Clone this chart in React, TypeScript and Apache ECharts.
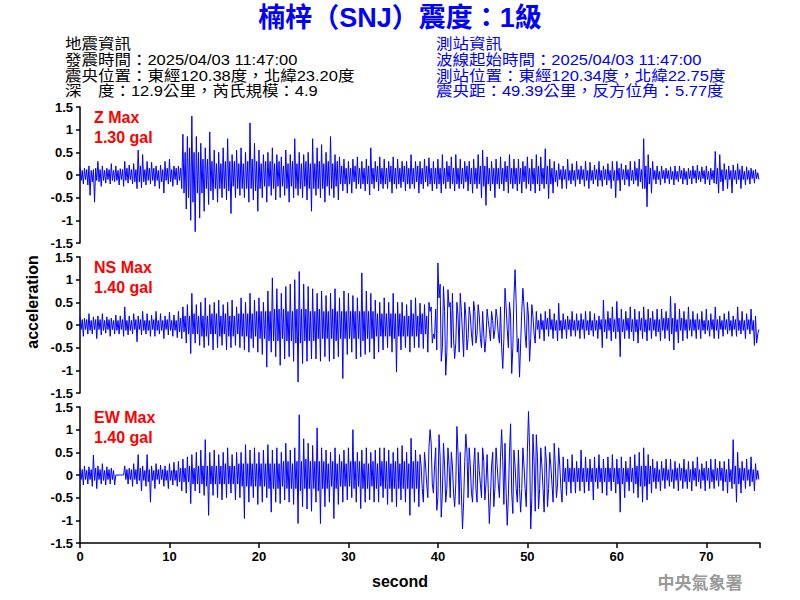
import React, { useEffect, useRef } from "react";
import * as echarts from "echarts";

// sampling interval of the traces below (seconds)
const SAMPLE_STEP = 0.125;
const X_MAX = 76;
const X_TICK_LABELS = [0, 10, 20, 30, 40, 50, 60, 70];
const Y_RANGE = [-1.5, 1.5];

const TITLE = "楠梓（SNJ）震度：1級";
const QUAKE_INFO = [
  "地震資訊",
  "發震時間：2025/04/03 11:47:00",
  "震央位置：東經120.38度，北緯23.20度",
  "深　度：12.9公里，芮氏規模：4.9",
];
const STATION_INFO = [
  "測站資訊",
  "波線起始時間：2025/04/03 11:47:00",
  "測站位置：東經120.34度，北緯22.75度",
  "震央距：49.39公里，反方位角：5.77度",
];
const COMPONENTS = ["Z", "NS", "EW"];
const MAX_LABELS = ["1.30 gal", "1.40 gal", "1.40 gal"];

// acceleration (gal), one value per SAMPLE_STEP (8 per second, one row per second)
const zAccel = [
  0.18, -0.12, 0.1, -0.2, 0.15, -0.1, 0.12, -0.22,
  0.2, -0.45, 0.1, -0.15, 0.12, -0.6, 0.15, -0.12,
  0.3, -0.15, 0.12, -0.25, 0.2, -0.12, 0.1, -0.18,
  0.15, -0.1, 0.12, -0.2, 0.25, -0.12, 0.1, -0.15,
  0.2, -0.12, 0.1, -0.22, 0.14, -0.1, 0.12, -0.25,
  0.3, -0.12, 0.15, -0.18, 0.22, -0.1, 0.12, -0.2,
  0.25, -0.15, 0.12, -0.3, 0.55, -0.15, 0.2, -0.28,
  0.45, -0.15, 0.12, -0.22, 0.3, -0.12, 0.15, -0.2,
  0.28, -0.12, 0.15, -0.25, 0.2, -0.12, 0.1, -0.3,
  0.22, -0.15, 0.12, -0.4, 0.3, -0.12, 0.15, -0.2,
  0.35, -0.15, 0.12, -0.25, 0.2, -0.1, 0.15, -0.22,
  0.2, -0.12, 0.15, -0.3, 0.9, -0.4, 0.5, -0.75,
  0.85, -0.5, 0.6, -1.0, 1.3, -0.6, 0.5, -1.25,
  0.85, -0.4, 0.5, -0.95, 0.7, -0.4, 0.35, -0.8,
  0.6, -0.3, 0.35, -0.65, 0.95, -0.35, 0.3, -0.55,
  0.55, -0.3, 0.25, -0.6, 0.5, -0.3, 0.25, -0.5,
  0.6, -0.3, 0.3, -0.55, 0.8, -0.35, 0.3, -0.85,
  0.45, -0.25, 0.3, -0.5, 0.55, -0.3, 0.25, -0.45,
  0.6, -0.3, 0.25, -0.5, 0.5, -0.3, 0.3, -0.6,
  1.15, -0.3, 0.35, -0.55, 0.7, -0.35, 0.3, -0.8,
  0.55, -0.3, 0.25, -0.5, 0.45, -0.25, 0.3, -0.6,
  0.5, -0.25, 0.3, -0.45, 0.6, -0.3, 0.25, -0.55,
  0.45, -0.25, 0.3, -0.5, 0.4, -0.25, 0.2, -0.45,
  0.55, -0.3, 0.25, -0.6, 0.45, -0.25, 0.3, -0.5,
  0.8, -0.3, 0.25, -0.45, 0.5, -0.3, 0.25, -0.5,
  0.45, -0.25, 0.3, -0.55, 0.5, -0.3, 0.25, -0.8,
  0.8, -0.3, 0.25, -0.45, 0.6, -0.3, 0.3, -0.5,
  0.67, -0.3, 0.25, -0.6, 0.5, -0.25, 0.3, -0.45,
  0.85, -0.3, 0.25, -0.5, 0.45, -0.25, 0.3, -0.55,
  0.4, -0.2, 0.2, -0.35, 0.35, -0.2, 0.15, -0.4,
  0.3, -0.2, 0.15, -0.4, 0.35, -0.15, 0.2, -0.3,
  0.4, -0.2, 0.15, -0.3, 0.3, -0.2, 0.15, -0.35,
  0.35, -0.2, 0.2, -0.44, 0.6, -0.2, 0.15, -0.3,
  0.3, -0.15, 0.2, -0.35, 0.4, -0.2, 0.15, -0.3,
  0.35, -0.2, 0.15, -0.3, 0.3, -0.15, 0.2, -0.4,
  0.4, -0.2, 0.15, -0.3, 0.35, -0.2, 0.15, -0.28,
  0.3, -0.15, 0.2, -0.35, 0.3, -0.2, 0.15, -0.3,
  0.45, -0.2, 0.15, -0.3, 0.3, -0.15, 0.2, -0.4,
  0.3, -0.2, 0.15, -0.3, 0.35, -0.15, 0.2, -0.25,
  0.38, -0.2, 0.15, -0.35, 0.3, -0.2, 0.15, -0.3,
  0.35, -0.2, 0.15, -0.4, 0.45, -0.2, 0.15, -0.3,
  0.3, -0.15, 0.2, -0.3, 0.4, -0.2, 0.15, -0.35,
  0.45, -0.2, 0.15, -0.3, 0.35, -0.2, 0.15, -0.3,
  0.3, -0.15, 0.2, -0.35, 0.3, -0.2, 0.15, -0.4,
  0.35, -0.2, 0.15, -0.3, 0.45, -0.2, 0.2, -0.5,
  0.55, -0.25, 0.2, -0.67, 0.4, -0.2, 0.15, -0.35,
  0.3, -0.2, 0.15, -0.5, 0.35, -0.2, 0.15, -0.3,
  0.4, -0.2, 0.15, -0.35, 0.3, -0.15, 0.2, -0.4,
  0.45, -0.2, 0.15, -0.3, 0.35, -0.2, 0.15, -0.35,
  0.35, -0.2, 0.15, -0.4, 0.3, -0.15, 0.2, -0.3,
  0.4, -0.2, 0.15, -0.35, 0.35, -0.2, 0.15, -0.4,
  0.45, -0.2, 0.2, -0.35, 0.4, -0.2, 0.15, -0.3,
  0.58, -0.2, 0.2, -0.52, 0.35, -0.2, 0.15, -0.4,
  0.3, -0.15, 0.1, -0.25, 0.25, -0.1, 0.12, -0.3,
  0.2, -0.1, 0.12, -0.3, 0.35, -0.12, 0.1, -0.2,
  0.25, -0.12, 0.1, -0.25, 0.3, -0.1, 0.12, -0.2,
  0.2, -0.1, 0.12, -0.25, 0.3, -0.12, 0.1, -0.3,
  0.28, -0.12, 0.1, -0.2, 0.22, -0.1, 0.12, -0.25,
  0.3, -0.12, 0.1, -0.25, 0.2, -0.1, 0.12, -0.22,
  0.25, -0.12, 0.1, -0.3, 0.3, -0.12, 0.1, -0.5,
  0.3, -0.12, 0.15, -0.35, 0.25, -0.1, 0.12, -0.22,
  0.22, -0.1, 0.12, -0.25, 0.3, -0.12, 0.1, -0.2,
  0.3, -0.12, 0.15, -0.25, 0.35, -0.15, 0.12, -0.3,
  0.8, -0.3, 0.2, -0.7, 0.45, -0.2, 0.15, -0.4,
  0.3, -0.1, 0.1, -0.2, 0.2, -0.1, 0.08, -0.22,
  0.2, -0.08, 0.1, -0.18, 0.15, -0.08, 0.1, -0.2,
  0.18, -0.1, 0.08, -0.22, 0.2, -0.1, 0.08, -0.15,
  0.2, -0.08, 0.1, -0.2, 0.15, -0.1, 0.08, -0.22,
  0.15, -0.08, 0.1, -0.2, 0.2, -0.08, 0.1, -0.18,
  0.22, -0.1, 0.08, -0.15, 0.18, -0.08, 0.1, -0.2,
  0.2, -0.1, 0.08, -0.22, 0.15, -0.1, 0.1, -0.18,
  0.52, -0.2, 0.15, -0.4, 0.45, -0.15, 0.12, -0.35,
  0.25, -0.1, 0.12, -0.3, 0.2, -0.1, 0.1, -0.4,
  0.22, -0.1, 0.1, -0.2, 0.25, -0.1, 0.12, -0.3,
  0.2, -0.1, 0.08, -0.22, 0.18, -0.1, 0.1, -0.2,
  0.15, -0.08, 0.1, -0.18, 0.12, -0.08, 0.05, -0.1,
];

const nsAccel = [
  0.2, -0.1, 0.12, -0.25, 0.15, -0.1, 0.12, -0.2,
  0.25, -0.12, 0.1, -0.2, 0.18, -0.1, 0.12, -0.3,
  0.2, -0.1, 0.12, -0.22, 0.25, -0.12, 0.1, -0.18,
  0.18, -0.1, 0.12, -0.25, 0.15, -0.1, 0.1, -0.2,
  0.22, -0.12, 0.1, -0.2, 0.2, -0.1, 0.12, -0.25,
  0.4, -0.12, 0.1, -0.22, 0.2, -0.12, 0.1, -0.2,
  0.25, -0.1, 0.12, -0.37, 0.2, -0.1, 0.12, -0.22,
  0.3, -0.12, 0.1, -0.2, 0.25, -0.12, 0.1, -0.25,
  0.22, -0.1, 0.12, -0.25, 0.3, -0.12, 0.1, -0.2,
  0.25, -0.12, 0.1, -0.3, 0.2, -0.1, 0.12, -0.22,
  0.28, -0.12, 0.1, -0.25, 0.22, -0.12, 0.1, -0.28,
  0.3, -0.15, 0.15, -0.3, 0.4, -0.15, 0.2, -0.4,
  0.45, -0.2, 0.2, -0.63, 0.7, -0.2, 0.25, -0.4,
  0.45, -0.2, 0.2, -0.45, 0.5, -0.25, 0.2, -0.5,
  0.6, -0.25, 0.2, -0.45, 0.45, -0.2, 0.25, -0.55,
  0.5, -0.2, 0.25, -0.5, 0.55, -0.25, 0.2, -0.45,
  0.45, -0.2, 0.25, -0.55, 0.5, -0.25, 0.2, -0.5,
  0.55, -0.25, 0.2, -0.45, 0.4, -0.2, 0.25, -0.5,
  0.6, -0.25, 0.25, -0.55, 0.5, -0.25, 0.25, -0.6,
  0.7, -0.3, 0.25, -0.5, 0.55, -0.25, 0.3, -0.6,
  0.6, -0.3, 0.3, -0.65, 0.5, -0.3, 0.3, -0.93,
  0.75, -0.35, 0.3, -0.6, 1.04, -0.35, 0.35, -0.7,
  0.8, -0.35, 0.35, -0.89, 0.7, -0.3, 0.35, -0.75,
  0.85, -0.35, 0.3, -0.7, 0.9, -0.35, 0.3, -0.8,
  1.0, -0.4, 0.35, -1.26, 1.18, -0.4, 0.35, -0.85,
  0.9, -0.35, 0.35, -0.8, 0.85, -0.35, 0.3, -0.75,
  0.8, -0.35, 0.3, -0.75, 0.7, -0.3, 0.35, -0.8,
  0.75, -0.3, 0.3, -0.7, 0.65, -0.3, 0.3, -0.8,
  0.7, -0.3, 0.35, -0.75, 0.8, -0.35, 0.3, -0.7,
  0.6, -0.3, 0.3, -1.18, 0.75, -0.3, 0.3, -0.65,
  0.7, -0.3, 0.3, -0.6, 0.65, -0.3, 0.3, -0.75,
  0.6, -0.3, 0.3, -0.7, 1.15, -0.35, 0.3, -0.65,
  0.75, -0.3, 0.3, -0.6, 0.7, -0.3, 0.3, -0.75,
  0.55, -0.25, 0.25, -0.6, 0.5, -0.25, 0.25, -0.55,
  0.6, -0.25, 0.25, -0.5, 0.5, -0.25, 0.25, -0.6,
  0.7, -0.3, 0.25, -1.04, 0.5, -0.25, 0.25, -0.55,
  0.5, -0.25, 0.2, -0.5, 0.45, -0.25, 0.2, -0.6,
  0.55, -0.25, 0.25, -0.5, 0.6, -0.25, 0.2, -0.5,
  0.48, -0.2, 0.25, -0.52, 0.45, -0.2, 0.2, -0.6,
  0.5, 0.3, 0.4, -0.4, -0.2, -0.3, 0.35, -0.55,
  1.37, 0.6, 0.9, -0.8, -0.5, 0.85, 0.3, -1.11,
  -0.6, 0.78, 0.4, 0.5, -0.5, 0.7, -0.3, -0.74,
  -0.4, 0.5, 0.2, -0.6, 0.7, 0.3, -0.2, -0.7,
  0.5, 0.2, -0.55, -0.3, 0.4, 0.2, -0.2, -0.45,
  0.52, 0.3, -0.4, -0.2, 0.45, 0.2, -0.3, -0.5,
  0.3, -0.2, -0.6, -0.3, 0.35, 0.1, -0.1, -0.35,
  0.3, 0.1, -0.3, -0.1, 0.35, 0.15, -0.2, -0.4,
  0.4, -0.5, -0.96, -0.3, 0.81, 0.4, -0.1, -0.5,
  0.5, 0.2, -1.07, -0.5, 0.6, 1.22, 0.5, -0.6,
  -0.3, -1.15, -0.4, 0.3, 0.81, 0.4, -0.2, -0.5,
  0.5, 0.2, -0.8, -0.3, 0.45, 0.2, -0.2, -0.4,
  0.3, -0.1, 0.1, -0.3, 0.25, -0.1, 0.1, -0.35,
  0.3, -0.1, 0.15, -0.25, 0.35, -0.1, 0.12, -0.3,
  0.25, -0.12, 0.1, -0.35, 0.48, -0.12, 0.1, -0.3,
  0.25, -0.1, 0.12, -0.3, 0.2, -0.1, 0.12, -0.25,
  0.3, -0.12, 0.1, -0.25, 0.25, -0.12, 0.1, -0.3,
  0.25, -0.1, 0.12, -0.3, 0.3, -0.12, 0.1, -0.22,
  0.3, -0.12, 0.1, -0.25, 0.25, -0.12, 0.1, -0.3,
  0.2, -0.1, 0.12, -0.5, 0.55, -0.15, 0.12, -0.3,
  0.3, -0.12, 0.15, -0.35, 0.4, -0.15, 0.12, -0.3,
  0.52, -0.15, 0.15, -0.7, 0.35, -0.15, 0.12, -0.3,
  0.3, -0.12, 0.15, -0.3, 0.4, -0.15, 0.12, -0.35,
  0.35, -0.15, 0.12, -0.4, 0.3, -0.12, 0.15, -0.3,
  0.4, -0.15, 0.12, -0.35, 0.35, -0.12, 0.15, -0.3,
  0.3, -0.12, 0.12, -0.25, 0.35, -0.15, 0.12, -0.35,
  0.35, -0.12, 0.15, -0.3, 0.3, -0.12, 0.15, -0.35,
  0.63, -0.2, 0.15, -0.55, 0.48, -0.15, 0.12, -0.4,
  0.35, -0.12, 0.15, -0.35, 0.3, -0.12, 0.12, -0.3,
  0.4, -0.12, 0.12, -0.25, 0.3, -0.12, 0.12, -0.3,
  0.25, -0.1, 0.12, -0.3, 0.3, -0.12, 0.1, -0.2,
  0.35, -0.12, 0.1, -0.25, 0.25, -0.1, 0.12, -0.3,
  0.4, -0.12, 0.12, -0.3, 0.2, -0.1, 0.1, -0.25,
  0.25, -0.1, 0.12, -0.2, 0.3, -0.12, 0.1, -0.25,
  0.2, -0.1, 0.12, -0.25, 0.4, -0.12, 0.1, -0.2,
  0.3, -0.12, 0.1, -0.3, 0.25, -0.1, 0.12, -0.2,
  0.35, -0.12, 0.1, -0.45, 0.2, -0.4, -0.2, -0.1,
];

const ewAccel = [
  0.15, -0.1, 0.12, -0.22, 0.2, -0.1, 0.1, -0.2,
  0.18, -0.1, 0.12, -0.25, 0.44, -0.12, 0.15, -0.3,
  0.2, -0.1, 0.12, -0.2, 0.25, -0.12, 0.1, -0.22,
  0.18, -0.1, 0.12, -0.2, 0.15, -0.1, 0.1, -0.22,
  0, 0, 0, 0, 0, 0, 0, 0,
  0.2, -0.1, 0.12, -0.2, 0.15, -0.1, 0.12, -0.25,
  0.25, -0.1, 0.12, -0.2, 0.45, -0.12, 0.15, -0.35,
  0.2, -0.12, 0.1, -0.25, 0.45, -0.15, 0.12, -0.6,
  0.2, -0.12, 0.1, -0.3, 0.25, -0.1, 0.12, -0.2,
  0.22, -0.1, 0.12, -0.25, 0.2, -0.12, 0.1, -0.3,
  0.25, -0.12, 0.1, -0.22, 0.28, -0.12, 0.1, -0.25,
  0.3, -0.15, 0.15, -0.35, 0.35, -0.15, 0.15, -0.4,
  0.4, -0.15, 0.2, -0.63, 0.45, -0.2, 0.15, -0.35,
  0.5, -0.2, 0.2, -0.4, 0.55, -0.2, 0.2, -0.45,
  0.78, -0.25, 0.2, -0.89, 0.5, -0.2, 0.2, -0.45,
  0.55, -0.2, 0.2, -0.5, 0.45, -0.2, 0.2, -0.55,
  0.5, -0.2, 0.25, -0.5, 0.6, -0.2, 0.2, -0.4,
  0.45, -0.2, 0.2, -0.55, 0.5, -0.2, 0.25, -0.5,
  0.5, -0.25, 0.25, -0.96, 0.67, -0.25, 0.25, -0.6,
  0.55, -0.25, 0.25, -0.5, 0.6, -0.25, 0.25, -0.65,
  0.5, -0.25, 0.25, -0.6, 0.55, -0.25, 0.25, -0.5,
  0.67, -0.3, 0.25, -0.82, 0.55, -0.3, 0.25, -0.6,
  0.6, -0.3, 0.25, -0.63, 0.5, -0.25, 0.3, -0.55,
  0.7, -0.3, 0.3, -0.6, 0.55, -0.3, 0.25, -0.65,
  0.6, -0.3, 0.3, -1.07, 1.33, -0.35, 0.3, -0.7,
  0.8, -0.3, 0.35, -0.75, 0.7, -0.3, 0.3, -0.8,
  0.65, -0.3, 0.3, -0.6, 1.04, -0.35, 0.3, -1.07,
  0.6, -0.3, 0.3, -0.7, 0.55, -0.3, 0.25, -0.6,
  0.5, -0.25, 0.3, -0.96, 0.6, -0.3, 0.25, -0.65,
  0.45, -0.25, 0.3, -0.6, 0.55, -0.25, 0.25, -0.55,
  0.6, -0.25, 0.3, -0.5, 1.0, -0.3, 0.3, -0.6,
  0.5, -0.25, 0.3, -0.74, 0.55, -0.3, 0.25, -0.6,
  0.6, -0.3, 0.25, -0.55, 0.5, -0.25, 0.3, -0.6,
  0.55, -0.3, 0.25, -0.6, 0.6, -0.25, 0.3, -0.5,
  0.6, -0.3, 0.3, -0.65, 0.55, -0.3, 0.25, -0.6,
  0.5, -0.3, 0.3, -0.7, 0.6, -0.3, 0.25, -0.55,
  0.65, -0.3, 0.3, -0.6, 0.5, -0.3, 0.25, -0.89,
  0.81, -0.3, 0.3, -0.6, 0.55, -0.3, 0.3, -0.7,
  0.45, 0.2, -0.3, -0.6, 0.5, 0.2, -0.2, -0.5,
  0.6, 1.0, 0.7, -0.2, -0.4, 0.2, 0.6, -0.78,
  -0.5, 0.89, 0.4, -0.93, -0.4, 0.7, 0.2, -0.6,
  -0.3, 0.6, 0.2, -0.5, 0.5, 0.2, -0.4, -0.7,
  -0.2, 1.07, 0.5, -0.65, 0.5, -0.4, -1.19, -0.6,
  0.3, 0.9, 0.5, -0.5, 0.6, 0.2, -0.4, -0.6,
  0.2, 0.6, -0.3, -0.6, 0.5, 0.1, -0.2, -0.5,
  0.6, 0.3, -0.55, -0.2, 0.45, -0.3, -1.07, -0.5,
  0.2, 0.5, -0.7, -0.3, 0.6, 0.2, -0.2, -0.5,
  0.4, 1.0, 0.3, -0.65, 0.7, -0.4, -1.11, -0.5,
  0.5, 1.13, -0.4, -0.85, 0.55, 0.2, -0.3, -0.6,
  0.55, -0.3, -0.82, -0.3, 0.6, 0.2, -0.3, -0.7,
  0.5, 1.4, 0.6, -1.19, -0.5, 0.9, 0.3, -0.8,
  0.89, 0.4, -0.75, -0.3, 0.6, 0.2, -0.3, -0.82,
  0.63, 0.3, -0.7, -0.3, 0.5, 0.2, -0.2, -0.6,
  0.7, 0.2, -0.5, -0.2, 0.6, 0.2, -0.3, -0.6,
  0.4, -0.15, 0.15, -0.45, 0.35, -0.15, 0.15, -0.4,
  0.45, -0.15, 0.15, -0.4, 0.3, -0.15, 0.15, -0.35,
  0.55, -0.15, 0.15, -0.4, 0.4, -0.15, 0.15, -0.35,
  0.35, -0.15, 0.15, -0.55, 0.4, -0.15, 0.15, -0.3,
  0.45, -0.15, 0.15, -0.4, 0.35, -0.15, 0.15, -0.45,
  0.4, -0.15, 0.15, -0.35, 0.45, -0.15, 0.15, -0.4,
  0.35, -0.2, 0.15, -0.82, 0.4, -0.2, 0.15, -0.5,
  0.3, -0.15, 0.15, -0.35, 0.4, -0.15, 0.15, -0.4,
  0.45, -0.2, 0.2, -0.5, 0.5, -0.25, 0.2, -0.6,
  0.6, -0.25, 0.2, -0.55, 0.45, -0.2, 0.2, -0.4,
  0.35, -0.15, 0.15, -0.3, 0.3, -0.15, 0.12, -0.35,
  0.3, -0.12, 0.15, -0.3, 0.35, -0.12, 0.12, -0.25,
  0.35, -0.15, 0.12, -0.3, 0.3, -0.12, 0.15, -0.35,
  0.25, -0.12, 0.15, -0.3, 0.35, -0.15, 0.12, -0.3,
  0.3, -0.15, 0.12, -0.35, 0.3, -0.12, 0.15, -0.25,
  0.4, -0.15, 0.12, -0.3, 0.25, -0.12, 0.15, -0.35,
  0.3, -0.12, 0.15, -0.3, 0.35, -0.15, 0.12, -0.3,
  0.35, -0.12, 0.15, -0.25, 0.3, -0.12, 0.15, -0.35,
  0.3, -0.15, 0.12, -0.4, 0.35, -0.15, 0.12, -0.3,
  0.78, -0.2, 0.2, -0.6, 0.5, -0.2, 0.15, -0.4,
  0.3, -0.12, 0.15, -0.3, 0.35, -0.12, 0.12, -0.25,
  0.4, -0.15, 0.12, -0.35, 0.25, -0.1, 0.1, -0.1,
];

const TRACES = [zAccel, nsAccel, ewAccel];

const SANS = '"Liberation Sans", Arial, "Noto Sans CJK TC", sans-serif';
const BLUE = "#0000ff";
const GRID_LEFT = 80;
const GRID_WIDTH = 680;
const GRID_TOPS = [107, 257, 407];
const GRID_HEIGHT = 136;

export default function App() {
  const ref = useRef<HTMLDivElement>(null);

  useEffect(() => {
    if (!ref.current) return;
    const chart = echarts.init(ref.current, null, { renderer: "svg" });

    const grids = GRID_TOPS.map((top) => ({
      left: GRID_LEFT,
      top,
      width: GRID_WIDTH,
      height: GRID_HEIGHT,
      containLabel: false,
    }));

    const xAxes = GRID_TOPS.map((_, i) => {
      const last = i === GRID_TOPS.length - 1;
      return {
        type: "value",
        gridIndex: i,
        min: 0,
        max: X_MAX,
        interval: 10,
        show: last,
        axisLine: { show: true, onZero: false, lineStyle: { color: "#000", width: 1.5 } },
        axisTick: { show: true, length: 5, lineStyle: { color: "#000", width: 1.5 } },
        axisLabel: {
          show: true,
          color: "#000",
          fontFamily: SANS,
          fontWeight: "bold",
          fontSize: 13,
          margin: 7,
          formatter: (v: number) => (X_TICK_LABELS.includes(v) ? String(v) : ""),
        },
        splitLine: { show: false },
      };
    });

    const yAxes = GRID_TOPS.map((_, i) => ({
      type: "value",
      gridIndex: i,
      min: Y_RANGE[0],
      max: Y_RANGE[1],
      interval: 0.5,
      axisLine: { show: true, onZero: false, lineStyle: { color: "#000", width: 1.5 } },
      axisTick: { show: true, length: 4, lineStyle: { color: "#000", width: 1.5 } },
      axisLabel: {
        color: "#000",
        fontFamily: SANS,
        fontWeight: "bold",
        fontSize: 13,
        margin: 7,
      },
      splitLine: { show: false },
    }));

    const series = TRACES.map((trace, i) => ({
      type: "line",
      xAxisIndex: i,
      yAxisIndex: i,
      data: trace.map((v, k) => [k * SAMPLE_STEP, v]),
      showSymbol: false,
      symbol: "none",
      lineStyle: { color: BLUE, width: 1 },
      itemStyle: { color: BLUE },
      silent: true,
      z: 2,
    }));

    const infoLineY = [44, 59.5, 75.5, 91];
    const infoText = (t: string, x: number, y: number, fill: string) => ({
      type: "text",
      x,
      y,
      scaleX: 1.1,
      style: {
        text: t,
        fill,
        fontFamily: SANS,
        fontSize: 15,
        lineHeight: 15,
        textAlign: "left",
        textVerticalAlign: "middle",
      },
    });

    const graphic: any[] = [
      {
        type: "text",
        x: 400,
        y: 18,
        style: {
          text: TITLE,
          fill: BLUE,
          font: `bold 27px ${SANS}`,
          textAlign: "center",
          textVerticalAlign: "middle",
        },
      },
      ...QUAKE_INFO.map((t, i) => infoText(t, 65, infoLineY[i], "#000")),
      ...STATION_INFO.map((t, i) => infoText(t, 436, infoLineY[i], BLUE)),
      ...COMPONENTS.flatMap((c, i) => [
        {
          type: "text",
          x: 94,
          y: GRID_TOPS[i] + 10,
          style: {
            text: `${c} Max`,
            fill: "#ff0000",
            font: `bold 16px ${SANS}`,
            textAlign: "left",
            textVerticalAlign: "middle",
          },
          z: 10,
        },
        {
          type: "text",
          x: 94,
          y: GRID_TOPS[i] + 30.5,
          style: {
            text: MAX_LABELS[i],
            fill: "#ff0000",
            font: `bold 16px ${SANS}`,
            textAlign: "left",
            textVerticalAlign: "middle",
          },
          z: 10,
        },
      ]),
      {
        type: "text",
        x: 32,
        y: 302,
        rotation: Math.PI / 2,
        style: {
          text: "acceleration",
          fill: "#000",
          font: `bold 16px ${SANS}`,
          textAlign: "center",
          textVerticalAlign: "middle",
        },
      },
      {
        type: "text",
        x: 400,
        y: 581,
        style: {
          text: "second",
          fill: "#000",
          font: `bold 16px ${SANS}`,
          textAlign: "center",
          textVerticalAlign: "middle",
        },
      },
      {
        type: "text",
        x: 700,
        y: 581,
        style: {
          text: "中央氣象署",
          fill: "#999999",
          font: `bold 17px "Noto Sans CJK TC", sans-serif`,
          textAlign: "center",
          textVerticalAlign: "middle",
        },
      },
    ];

    chart.setOption({
      animation: false,
      backgroundColor: "#ffffff",
      grid: grids,
      xAxis: xAxes,
      yAxis: yAxes,
      series,
      graphic,
    });

    return () => chart.dispose();
  }, []);

  return <div ref={ref} style={{ width: 800, height: 600, position: "absolute", left: 0, top: 0 }} />;
}
